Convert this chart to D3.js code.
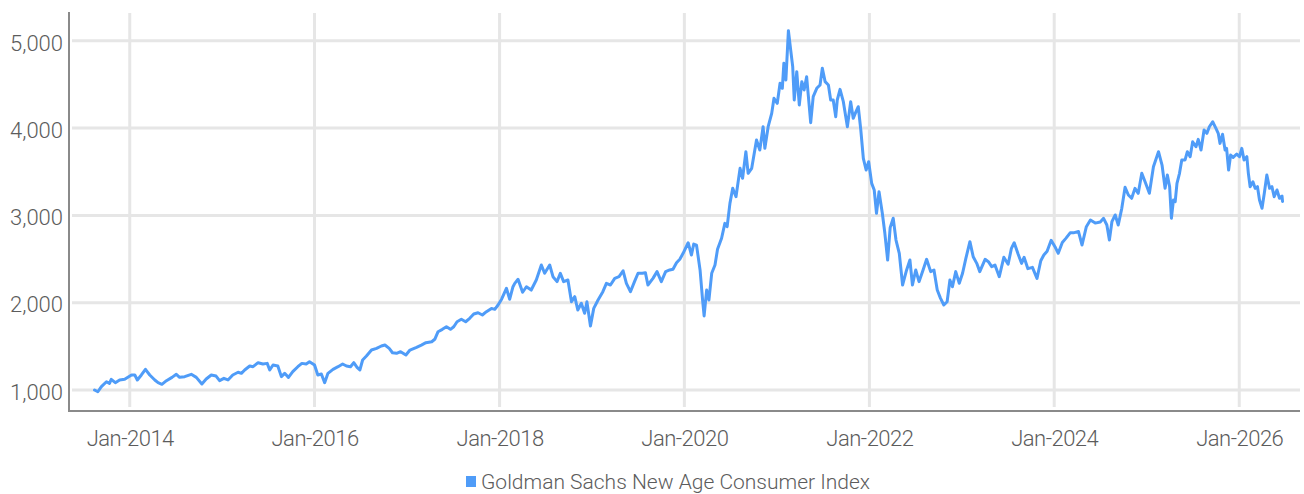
<!DOCTYPE html>
<html>
<head>
<meta charset="utf-8">
<script src="https://cdn.jsdelivr.net/npm/d3@7/dist/d3.min.js"></script>
<style>
  html, body { margin: 0; padding: 0; background: #fff; }
  svg text { font-family: Roboto, "Noto Sans", sans-serif; font-weight: 300; fill: #5c5c5c; }
</style>
</head>
<body>
<svg id="chart" width="1304" height="494"></svg>
<script>
// Goldman Sachs New Age Consumer Index, closing levels
const seriesName = "Goldman Sachs New Age Consumer Index";

const dates = [
  "2013-08-15","2013-08-28","2013-09-11","2013-10-01","2013-10-13","2013-10-20","2013-11-05","2013-11-22","2013-12-12",
  "2014-01-08","2014-01-21","2014-01-31","2014-02-16","2014-03-04","2014-03-21","2014-04-10","2014-04-23","2014-05-08","2014-05-26",
  "2014-06-17","2014-07-04","2014-07-17","2014-08-06","2014-09-01","2014-09-21","2014-10-13","2014-10-30","2014-11-19","2014-12-08","2014-12-22",
  "2015-01-08","2015-01-24","2015-02-12","2015-03-05","2015-03-18","2015-03-31","2015-04-20","2015-05-03","2015-05-23","2015-06-11",
  "2015-06-28","2015-07-08","2015-07-21","2015-08-09","2015-08-23","2015-09-05","2015-09-20","2015-10-07","2015-10-27","2015-11-12",
  "2015-11-29","2015-12-12",
  "2016-01-01","2016-01-14","2016-01-28","2016-02-10","2016-02-23","2016-03-14","2016-04-03","2016-04-21","2016-05-06","2016-05-22",
  "2016-06-04","2016-06-17","2016-06-28","2016-07-09","2016-07-24","2016-08-13","2016-09-02","2016-09-21","2016-10-05","2016-10-22",
  "2016-11-04","2016-11-20","2016-12-06","2016-12-27",
  "2017-01-12","2017-02-07","2017-02-26","2017-03-16","2017-04-08","2017-04-20","2017-05-03","2017-05-20","2017-06-05","2017-06-21",
  "2017-07-04","2017-07-17","2017-08-03","2017-08-20","2017-09-05","2017-09-21","2017-10-08","2017-10-25","2017-11-10","2017-11-30",
  "2017-12-13","2017-12-26",
  "2018-01-09","2018-01-28","2018-02-10","2018-02-23","2018-03-02","2018-03-15","2018-04-02","2018-04-17","2018-05-06","2018-05-26",
  "2018-06-15","2018-06-28","2018-07-18","2018-07-31","2018-08-16","2018-08-29","2018-09-11","2018-09-28","2018-10-12","2018-10-25",
  "2018-11-06","2018-11-20","2018-12-03","2018-12-12","2018-12-26",
  "2019-01-08","2019-01-25","2019-02-13","2019-02-27","2019-03-15","2019-04-01","2019-04-18","2019-05-04","2019-05-17","2019-06-02",
  "2019-06-18","2019-07-02","2019-07-19","2019-07-31","2019-08-10","2019-08-30","2019-09-15","2019-10-02","2019-10-19","2019-11-04",
  "2019-11-17","2019-12-01","2019-12-14","2019-12-27",
  "2020-01-16","2020-01-29","2020-02-07","2020-02-18","2020-03-03","2020-03-13","2020-03-19","2020-03-29","2020-04-07","2020-04-18",
  "2020-05-01","2020-05-11","2020-05-27","2020-06-09","2020-06-18","2020-06-29","2020-07-10","2020-07-23","2020-08-08","2020-08-18",
  "2020-08-31","2020-09-09","2020-09-23","2020-10-12","2020-10-25","2020-11-07","2020-11-14","2020-11-27","2020-12-11","2020-12-20",
  "2021-01-02","2021-01-13","2021-01-22","2021-01-28","2021-02-05","2021-02-15","2021-02-24","2021-03-04","2021-03-10","2021-03-20",
  "2021-03-30","2021-04-09","2021-04-18","2021-04-28","2021-05-05","2021-05-14","2021-05-24","2021-06-07","2021-06-20","2021-06-29",
  "2021-07-10","2021-07-23","2021-08-01","2021-08-11","2021-08-21","2021-08-27","2021-09-07","2021-09-20","2021-10-06","2021-10-19",
  "2021-10-29","2021-11-09","2021-11-18","2021-11-28","2021-12-08","2021-12-19","2021-12-29",
  "2022-01-10","2022-01-20","2022-01-29","2022-02-08","2022-02-21","2022-03-03","2022-03-14","2022-03-24","2022-04-05","2022-04-16",
  "2022-04-29","2022-05-12","2022-05-28","2022-06-10","2022-06-20","2022-07-03","2022-07-16","2022-08-01","2022-08-15","2022-08-31",
  "2022-09-13","2022-09-26","2022-10-09","2022-10-22","2022-11-04","2022-11-15","2022-11-25","2022-12-08","2022-12-22",
  "2023-01-04","2023-01-17","2023-02-02","2023-02-15","2023-03-01","2023-03-13","2023-04-03","2023-04-16","2023-04-29","2023-05-12",
  "2023-05-29","2023-06-16","2023-07-03","2023-07-16","2023-07-27","2023-08-11","2023-08-25","2023-09-04","2023-09-19","2023-10-07",
  "2023-10-25","2023-11-09","2023-11-21","2023-12-04","2023-12-20",
  "2024-01-04","2024-01-17","2024-02-02","2024-02-16","2024-03-04","2024-03-17","2024-04-06","2024-04-20","2024-05-07","2024-05-23",
  "2024-06-11","2024-07-01","2024-07-14","2024-07-27","2024-08-06","2024-08-16","2024-08-29","2024-09-10","2024-09-24","2024-10-07",
  "2024-10-20","2024-11-02","2024-11-15","2024-11-28","2024-12-12","2024-12-25",
  "2025-01-11","2025-01-27","2025-02-16","2025-03-02","2025-03-14","2025-03-23","2025-04-01","2025-04-08","2025-04-16","2025-04-23",
  "2025-04-30","2025-05-10","2025-05-19","2025-06-01","2025-06-10","2025-06-21","2025-07-01","2025-07-14","2025-07-23","2025-08-03",
  "2025-08-15","2025-08-26","2025-09-05","2025-09-18","2025-10-01","2025-10-10","2025-10-17","2025-10-27","2025-11-06","2025-11-12",
  "2025-11-20","2025-11-28","2025-12-08","2025-12-22",
  "2026-01-02","2026-01-11","2026-01-20","2026-01-31","2026-02-06","2026-02-13","2026-02-24","2026-03-05","2026-03-14","2026-03-22",
  "2026-04-01","2026-04-10","2026-04-20","2026-05-01","2026-05-10","2026-05-19","2026-05-30","2026-06-09","2026-06-19","2026-06-21"
];

const values = [
  1000,980,1038,1095,1076,1122,1084,1115,1122,
  1172,1172,1115,1172,1237,1172,1115,1084,1065,1107,
  1145,1180,1145,1153,1180,1145,1069,1126,1172,1160,1107,
  1134,1115,1172,1203,1191,1229,1275,1267,1313,1298,
  1305,1229,1286,1275,1153,1191,1145,1210,1267,1305,
  1298,1324,
  1286,1172,1183,1084,1191,1237,1267,1298,1275,1267,
  1313,1260,1229,1344,1389,1458,1477,1504,1515,1477,
  1427,1420,1439,1401,
  1458,1489,1515,1542,1553,1581,1668,1695,1725,1695,
  1725,1782,1810,1782,1821,1870,1885,1859,1897,1935,
  1924,1974,
  2040,2165,2040,2183,2222,2268,2120,2183,2145,2260,
  2432,2337,2432,2298,2241,2337,2241,2260,2011,2069,
  1916,1993,1879,2011,1733,
  1935,2031,2126,2222,2203,2279,2298,2366,2222,2126,
  2241,2337,2337,2344,2203,2279,2356,2241,2356,2375,
  2383,2458,2497,2566,
  2687,2546,2672,2660,2375,2031,1848,2145,2031,2337,
  2432,2612,2738,2909,2871,3138,3310,3214,3539,3425,
  3730,3482,3539,3864,3749,4016,3768,4016,4169,4341,
  4284,4513,4456,4742,4551,5116,4895,4704,4322,4646,
  4265,4532,4437,4589,4360,4062,4360,4456,4494,4685,
  4532,4494,4322,4322,4131,4322,4444,4303,4016,4303,
  4112,4188,4245,3978,3653,3520,3615,
  3367,3291,3024,3272,3024,2795,2489,2860,2967,2718,
  2566,2203,2375,2489,2203,2375,2241,2375,2497,2356,
  2375,2145,2050,1974,2011,2260,2183,2356,2222,
  2337,2508,2699,2527,2451,2356,2497,2470,2413,2432,
  2298,2520,2440,2623,2687,2560,2451,2520,2390,2405,
  2279,2480,2546,2590,2715,
  2642,2566,2690,2737,2800,2800,2815,2661,2871,2947,
  2912,2925,2967,2890,2718,2928,3005,2890,3081,3322,
  3234,3196,3310,3253,3482,3386,
  3253,3558,3730,3577,3310,3463,3329,2967,3176,3157,
  3367,3482,3635,3635,3730,3673,3844,3787,3871,3749,
  3978,3940,4016,4073,3997,3940,3825,3929,3749,3768,
  3520,3692,3664,3703,
  3673,3768,3635,3673,3482,3329,3386,3310,3329,3176,
  3081,3253,3463,3310,3329,3214,3291,3196,3222,3160
];

const yTicks = [1000, 2000, 3000, 4000, 5000];
const xTickDates = ["2014-01-01","2016-01-01","2018-01-01","2020-01-01","2022-01-01","2024-01-01","2026-01-01"];

const parse = d3.utcParse("%Y-%m-%d");
const data = dates.map((d, i) => ({ date: parse(d), value: values[i] }));

const svg = d3.select("#chart");
const plotLeft = 70, plotRight = 1300, plotTop = 12, plotBottom = 410;

const x = d3.scaleUtc()
  .domain([parse("2013-05-10"), parse("2026-08-29")])
  .range([plotLeft, plotRight]);

const y = d3.scaleLinear()
  .domain([771, 5330])
  .range([plotBottom, plotTop]);

const lineColor = "#4f9cf8";
const gridColor = "#e6e6e6";
const axisColor = "#8a8a8a";
const labelFont = "Roboto, 'Noto Sans', sans-serif";

// horizontal grid
svg.append("g")
  .selectAll("line")
  .data(yTicks)
  .join("line")
  .attr("x1", plotLeft + 2).attr("x2", plotRight)
  .attr("y1", d => y(d)).attr("y2", d => y(d))
  .attr("stroke", gridColor).attr("stroke-width", 3);

// vertical grid
const xTicks = xTickDates.map(parse);
svg.append("g")
  .selectAll("line")
  .data(xTicks)
  .join("line")
  .attr("x1", d => x(d)).attr("x2", d => x(d))
  .attr("y1", plotTop + 1).attr("y2", plotBottom - 3)
  .attr("stroke", gridColor).attr("stroke-width", 3);

// y axis labels
const fmt = d3.format(",");
const yAxis = d3.axisLeft(y).tickValues(yTicks).tickFormat(fmt).tickSize(0).tickPadding(0);
const gy = svg.append("g").attr("transform", `translate(${plotLeft - 7},0)`).call(yAxis);
gy.select(".domain").remove();
gy.attr("font-family", null).attr("font-size", null);
gy.selectAll("text")
  .attr("font-size", 22)
  .attr("dy", "0.42em")
  .style("font-family", labelFont);

// x axis labels
const xAxis = d3.axisBottom(x).tickValues(xTicks).tickFormat(d3.utcFormat("%b-%Y")).tickSize(0).tickPadding(0);
const gx = svg.append("g").attr("transform", `translate(0,${plotBottom + 20})`).call(xAxis);
gx.select(".domain").remove();
gx.attr("font-family", null).attr("font-size", null);
gx.selectAll("text")
  .attr("font-size", 22)
  .attr("dy", "0.71em")
  .attr("letter-spacing", "-0.5px")
  .style("font-family", labelFont);

// axis lines
svg.append("line")
  .attr("x1", plotLeft - 1).attr("x2", plotLeft - 1)
  .attr("y1", plotTop).attr("y2", plotBottom + 2)
  .attr("stroke", axisColor).attr("stroke-width", 2);
svg.append("line")
  .attr("x1", plotLeft).attr("x2", plotRight)
  .attr("y1", plotBottom + 1).attr("y2", plotBottom + 1)
  .attr("stroke", axisColor).attr("stroke-width", 2);

// index line
const line = d3.line()
  .x(d => x(d.date))
  .y(d => y(d.value));

svg.append("path")
  .datum(data)
  .attr("d", line)
  .attr("fill", "none")
  .attr("stroke", lineColor)
  .attr("stroke-width", 3)
  .attr("stroke-linejoin", "round")
  .attr("stroke-linecap", "round");

// legend
const legend = svg.append("g").attr("transform", "translate(466,476)");
legend.append("rect")
  .attr("width", 10).attr("height", 11)
  .attr("fill", lineColor);
legend.append("text")
  .attr("x", 15).attr("y", 13)
  .attr("font-size", 21)
  .text(seriesName);
</script>
</body>
</html>
